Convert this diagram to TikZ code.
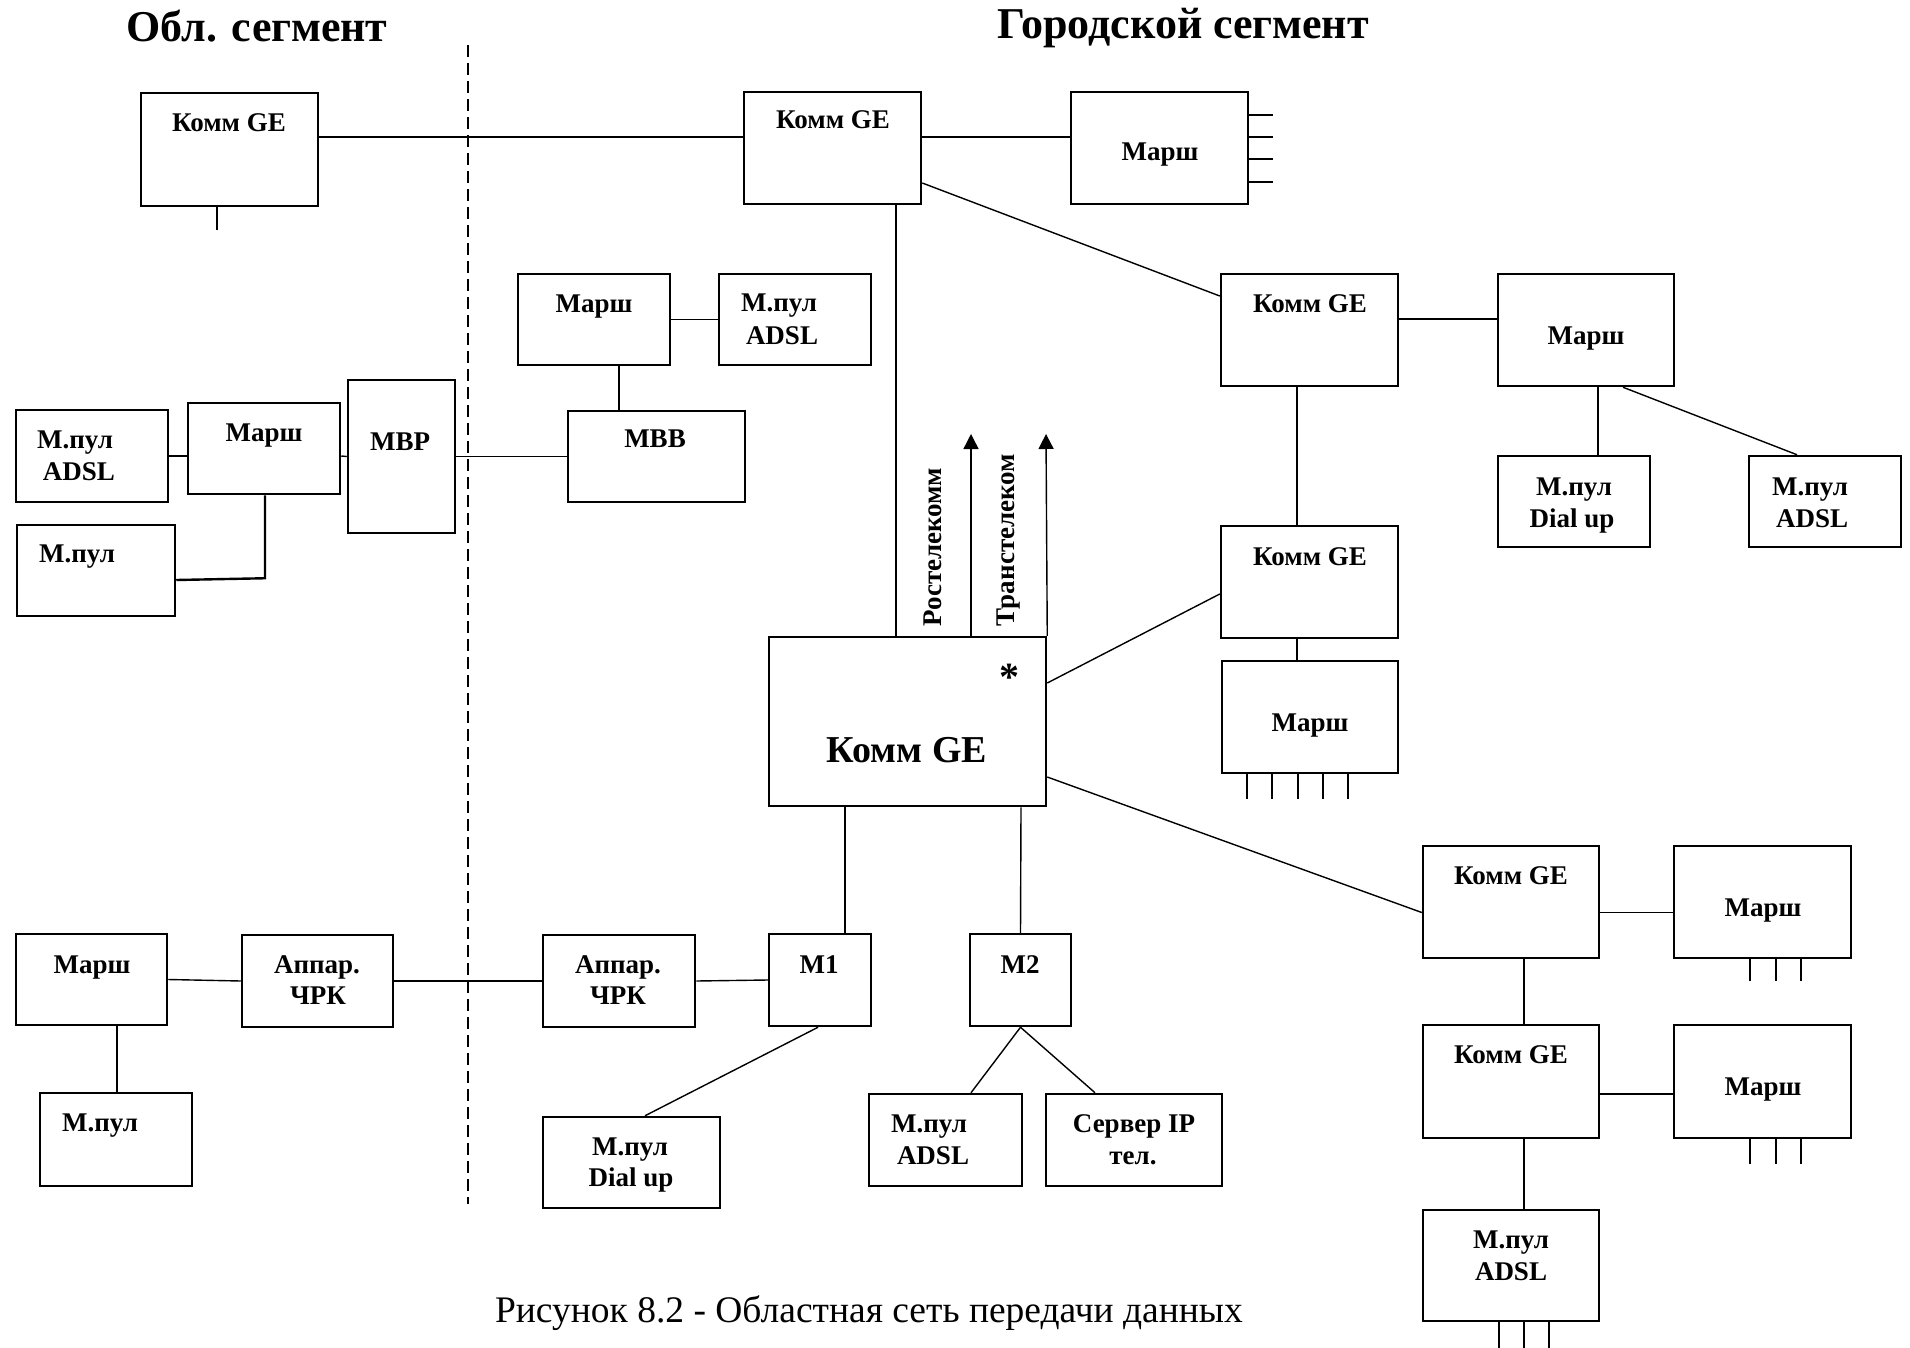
\documentclass[tikz,border=0pt]{standalone}
\usepackage{fontspec}
\setmainfont{Liberation Serif}
\usetikzlibrary{calc,arrows.meta}
\tikzset{
 box/.style={draw,line width=2.5pt,inner sep=0pt},
 wire/.style={line width=1.4pt},
 lbl/.style={inner sep=0pt,anchor=base,font=\bfseries\fontsize{27}{32}\selectfont},
 biglbl/.style={inner sep=0pt,anchor=base,font=\bfseries\fontsize{38}{44}\selectfont},
 ttl/.style={inner sep=0pt,anchor=base,font=\bfseries\fontsize{44}{50}\selectfont},
 capt/.style={inner sep=0pt,anchor=base,font=\fontsize{37.5}{44}\selectfont},
 arr/.style={wire,-{Triangle[width=15pt,length=15pt]}},
}
\newcommand\bx[5]{\node[box,minimum width={(#4-#2)*1pt},minimum height={(#5-#3)*1pt}] (#1) at ({(#2+#4)/2},{(#3+#5)/2}) {};}
\begin{document}
\begin{tikzpicture}[x=1pt,y=-1pt]
\useasboundingbox (0,0) rectangle (1910,1348);
% titles
\node[ttl] (t1) at (257,42) {Обл. сегмент};
\node[ttl] (t2) at (1183,39) {Городской сегмент};
\node[capt] (cap) at (869,1322) {Рисунок 8.2 - Областная сеть передачи данных};
% dashed border
\coordinate (d1) at (468,45);
\coordinate (d2) at (468,1204);
\draw[line width=1.6pt,dash pattern=on 12pt off 6pt] (d1) -- (d2);
% boxes
\bx{kL}{141}{93}{318}{206}
\bx{kT}{744}{92}{921}{204}
\bx{mT}{1071}{92}{1248}{204}
\bx{kA}{1221}{274}{1398}{386}
\bx{mA}{1498}{274}{1674}{386}
\bx{pDA}{1498}{456}{1650}{547}
\bx{pAA}{1749}{456}{1901}{547}
\bx{kB}{1221}{526}{1398}{638}
\bx{mC}{1222}{661}{1398}{773}
\bx{big}{769}{637}{1046}{806}
\bx{mM}{518}{274}{670}{365}
\bx{pM}{719}{274}{871}{365}
\bx{mvv}{568}{411}{745}{502}
\bx{mvr}{348}{380}{455}{533}
\bx{mL}{188}{403}{340}{494}
\bx{pLA}{16}{410}{168}{502}
\bx{pL}{17}{525}{175}{616}
\bx{mBL}{16}{934}{167}{1025}
\bx{aL}{242}{935}{393}{1027}
\bx{aR}{543}{935}{695}{1027}
\bx{m1}{769}{934}{871}{1026}
\bx{m2}{970}{934}{1071}{1026}
\bx{pBL}{40}{1093}{192}{1186}
\bx{pD}{543}{1117}{720}{1208}
\bx{pM2}{869}{1094}{1022}{1186}
\bx{srv}{1046}{1094}{1222}{1186}
\bx{kD}{1423}{846}{1599}{958}
\bx{mE}{1674}{846}{1851}{958}
\bx{kF}{1423}{1025}{1599}{1138}
\bx{mG}{1674}{1025}{1851}{1138}
\bx{pF}{1423}{1210}{1599}{1321}
% labels
\node[lbl] (kL-t) at (229,132) {Комм GE};
\node[lbl] (kT-t) at (833,129) {Комм GE};
\node[lbl] (mT-t) at (1160,161) {Марш};
\node[lbl] (kA-t) at (1310,312) {Комм GE};
\node[lbl] (mA-t) at (1586,344) {Марш};
\node[lbl] (pDA-t) at (1574,495) {М.пул};
\node[lbl] (pDA-u) at (1572,527) {Dial up};
\node[lbl] (pAA-t) at (1810,495) {М.пул};
\node[lbl] (pAA-u) at (1812,527) {ADSL};
\node[lbl] (kB-t) at (1310,565) {Комм GE};
\node[lbl] (mC-t) at (1310,731) {Марш};
\node[biglbl] (big-t) at (907,762) {Комм GE};
\node[inner sep=0pt,anchor=base,font=\bfseries\fontsize{40}{44}\selectfont] (star) at (1009,690) {*};
\node[lbl] (mM-t) at (594,312) {Марш};
\node[lbl] (pM-t) at (779,311) {М.пул};
\node[lbl] (pM-u) at (782,344) {ADSL};
\node[lbl] (mvv-t) at (655,447) {МВВ};
\node[lbl] (mvr-t) at (400,450) {МВР};
\node[lbl] (mL-t) at (264,441) {Марш};
\node[lbl] (pLA-t) at (75,448) {М.пул};
\node[lbl] (pLA-u) at (79,480) {ADSL};
\node[lbl] (pL-t) at (77,562) {М.пул};
\node[lbl] (mBL-t) at (92,973) {Марш};
\node[lbl] (aL-t) at (317,973) {Аппар.};
\node[lbl] (aL-u) at (318,1004) {ЧРК};
\node[lbl] (aR-t) at (618,973) {Аппар.};
\node[lbl] (aR-u) at (618,1004) {ЧРК};
\node[lbl] (m1-t) at (819,973) {М1};
\node[lbl] (m2-t) at (1020,973) {М2};
\node[lbl] (pBL-t) at (100,1131) {М.пул};
\node[lbl] (pD-t) at (630,1155) {М.пул};
\node[lbl] (pD-u) at (631,1186) {Dial up};
\node[lbl] (pM2-t) at (929,1132) {М.пул};
\node[lbl] (pM2-u) at (933,1164) {ADSL};
\node[lbl] (srv-t) at (1134,1132) {Сервер IP};
\node[lbl] (srv-u) at (1133,1164) {тел.};
\node[lbl] (kD-t) at (1511,884) {Комм GE};
\node[lbl] (mE-t) at (1763,916) {Марш};
\node[lbl] (kF-t) at (1511,1063) {Комм GE};
\node[lbl] (mG-t) at (1763,1095) {Марш};
\node[lbl] (pF-t) at (1511,1248) {М.пул};
\node[lbl] (pF-u) at (1511,1280) {ADSL};
\node[lbl,anchor=center,rotate=90] (rt) at (933,547) {Ростелекомм};
\node[lbl,anchor=center,rotate=90] (tt) at (1009,540) {Транстелеком};
% connectors
\draw[wire] ($(kL.east)+(0,-12.5)$) -- ($(kT.west)+(0,-11)$);
\draw[wire] ($(kT.east)+(0,-11)$) -- ($(mT.west)+(0,-11)$);
\draw[wire] ($(kT.east)+(0,35)$) -- ($(kA.west)+(0,-34)$);
\draw[wire] ($(kT.south)+(63.5,0)$) -- ($(big.north)+(-11.5,0)$);
\draw[wire] ($(kA.east)+(0,-11)$) -- ($(mA.west)+(0,-11)$);
\draw[wire] ($(mA.south)+(12,0)$) -- ($(pDA.north)+(24,0)$);
\draw[wire] ($(mA.south)+(37,0)$) -- ($(pAA.north)+(-28,0)$);
\draw[wire] ($(kA.south)+(-12.5,0)$) -- ($(kB.north)+(-12.5,0)$);
\draw[wire] ($(kB.south)+(-12.5,0)$) -- ($(mC.north)+(-13,0)$);
\draw[wire] ($(big.east)+(0,-38.5)$) -- ($(kB.west)+(0,12)$);
\draw[wire] ($(big.east)+(0,55.5)$) -- ($(kD.west)+(0,10.5)$);
\draw[wire] ($(big.south)+(-62.5,0)$) -- ($(m1.north)+(25,0)$);
\draw[wire] ($(big.south)+(113.5,0)$) -- (m2.north);
\draw[wire] ($(m1.south)+(-2,0)$) -- ($(pD.north)+(13.5,0)$);
\draw[wire] (m2.south) -- ($(pM2.north)+(25.5,0)$);
\draw[wire] (m2.south) -- ($(srv.north)+(-39,0)$);
\draw[wire] (aR.east) -- (m1.west);
\draw[wire] (aL.east) -- (aR.west);
\draw[wire] (mBL.east) -- (aL.west);
\draw[wire] ($(mBL.south)+(25.5,0)$) -- ($(pBL.north)+(1,0)$);
\draw[wire] (mM.east) -- (pM.west);
\draw[wire] ($(mM.south)+(25,0)$) -- ($(mvv.north)+(-37.5,0)$);
\draw[wire] (mvr.east) -- (mvv.west);
\draw[wire] ($(mL.east)+(0,7.5)$) -- (mvr.west);
\draw[wire] (pLA.east) -- ($(mL.west)+(0,7.5)$);
\draw[line width=2.4pt] ($(pL.east)+(0,9.5)$) -- ($(mL.south)+(1,83)$) -- ($(mL.south)+(1,0)$);
\draw[wire] ($(kD.east)+(0,10.5)$) -- ($(mE.west)+(0,10.5)$);
\draw[wire] ($(kD.south)+(13,0)$) -- ($(kF.north)+(13,0)$);
\draw[wire] ($(kF.east)+(0,12.5)$) -- ($(mG.west)+(0,12.5)$);
\draw[wire] ($(kF.south)+(13,0)$) -- ($(pF.north)+(13,0)$);
% arrows
\coordinate (ar1) at (971,434);
\coordinate (ar2) at (1046,434);
\draw[arr] ($(big.north)+(63.5,0)$) -- (ar1);
\draw[arr] (big.north east) -- (ar2);
% port stubs
\foreach \d in {-33,-11,11,34} \draw[wire] ($(mT.east)+(0,\d)$) -- ++(24,0);
\draw[wire] ($(kL.south)+(-12.5,0)$) -- ++(0,23);
\foreach \d in {-63,-38,-12,13,38} \draw[wire] ($(mC.south)+(\d,0)$) -- ++(0,25);
\foreach \d in {-12.5,13.5,38.5} \draw[wire] ($(mE.south)+(\d,0)$) -- ++(0,22);
\foreach \d in {-12.5,13.5,38.5} \draw[wire] ($(mG.south)+(\d,0)$) -- ++(0,25);
\foreach \d in {-12,13,38} \draw[wire] ($(pF.south)+(\d,0)$) -- ++(0,27);
\end{tikzpicture}
\end{document}
